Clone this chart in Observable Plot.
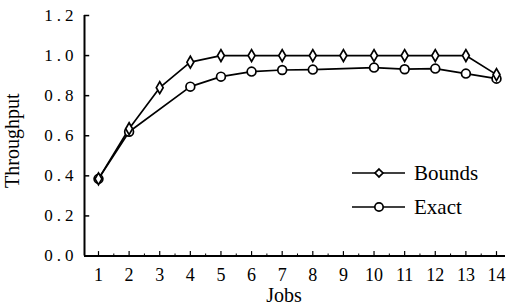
<!DOCTYPE html>
<html>
<head>
<meta charset="utf-8">
<script src="https://cdn.jsdelivr.net/npm/d3@7"></script>
<script src="https://cdn.jsdelivr.net/npm/@observablehq/plot@0.6"></script>
<style>
  html, body { margin: 0; padding: 0; background: #fff; }
  #wrap { position: relative; width: 510px; height: 307px; font-family: "Liberation Serif", "Times New Roman", serif; }
  #legend { position: absolute; left: 350px; top: 160px; }
  #wrap svg text { font-family: "Liberation Serif", "Times New Roman", serif; fill: #000; }
  #wrap [aria-label="y-axis tick label"] text { font-size: 17px; letter-spacing: 4px; }
  #wrap [aria-label="x-axis tick label"] text { font-size: 18px; }
  #wrap .axlabel text { font-size: 20px; }
</style>
</head>
<body>
<div id="wrap"></div>
<script>
// Data
const boundsJobs = [1, 2, 3, 4, 5, 6, 7, 8, 9, 10, 11, 12, 13, 14];
const boundsVals = [0.385, 0.635, 0.84, 0.967, 1.0, 1.0, 1.0, 1.0, 1.0, 1.0, 1.0, 1.0, 1.0, 0.905];
const exactJobs = [1, 2, 4, 5, 6, 7, 8, 10, 11, 12, 13, 14];
const exactVals = [0.385, 0.62, 0.845, 0.895, 0.92, 0.928, 0.93, 0.94, 0.932, 0.935, 0.91, 0.885];
const xTicks = [1, 2, 3, 4, 5, 6, 7, 8, 9, 10, 11, 12, 13, 14];
const yTicks = [0, 0.2, 0.4, 0.6, 0.8, 1.0, 1.2];
const yTickLabels = ["0.0", "0.2", "0.4", "0.6", "0.8", "1.0", "1.2"];
const seriesNames = ["Bounds", "Exact"];
const xLabel = "Jobs";
const yLabel = "Throughput";

const bounds = boundsJobs.map((j, i) => ({job: j, value: boundsVals[i]}));
const exact = exactJobs.map((j, i) => ({job: j, value: exactVals[i]}));
const xMin = 0.543, xMax = 14.294;
const minorTicks = xTicks.map(d => d + 0.5).filter(d => d < xMax);

const chart = Plot.plot({
  width: 510,
  height: 307,
  marginLeft: 84,
  marginRight: 5,
  marginTop: 15,
  marginBottom: 51.5,
  style: {fontFamily: "Liberation Serif, Times New Roman, serif", fontSize: "17px", color: "#000", background: "#fff"},
  x: {domain: [xMin, xMax]},
  y: {domain: [0, 1.2]},
  marks: [
    Plot.axisY({ticks: yTicks, tickFormat: (d, i) => yTickLabels[i], tickSize: 0, tickPadding: 7, label: null}),
    Plot.axisX({ticks: xTicks, tickFormat: d => String(d), tickSize: 0, tickPadding: 12, label: null}),
    Plot.ruleX([xMin], {y1: 0, y2: 1.2, strokeWidth: 2, stroke: "#000"}),
    Plot.ruleY([0], {strokeWidth: 2, stroke: "#000"}),
    Plot.ruleY(yTicks, {y: d => d, x1: xMin, x2: xMin + 0.17, strokeWidth: 1.5, stroke: "#000"}),
    Plot.ruleX(xTicks, {x: d => d, y1: 0, y2: 0.022, strokeWidth: 1.2, stroke: "#000"}),
    Plot.ruleX(minorTicks, {x: d => d, y1: 0, y2: 0.01, strokeWidth: 1, stroke: "#000"}),
    Plot.line(bounds, {x: "job", y: "value", stroke: "#000", strokeWidth: 1.7}),
    Plot.line(exact, {x: "job", y: "value", stroke: "#000", strokeWidth: 1.7}),
    Plot.dot(exact, {x: "job", y: "value", r: 4.4, symbol: "circle", fill: "#fff", stroke: "#000", strokeWidth: 1.7}),
    Plot.dot(bounds, {x: "job", y: "value", r: 3.6, symbol: "diamond", fill: "#fff", stroke: "#000", strokeWidth: 1.7}),
    Plot.text([yLabel], {frameAnchor: "left", textAnchor: "middle", lineAnchor: "middle", rotate: -90, dx: -72, dy: 5, className: "axlabel", fill: "#000"}),
    Plot.text([xLabel], {frameAnchor: "bottom", textAnchor: "middle", lineAnchor: "middle", dx: -11, dy: 40, className: "axlabel", fill: "#000"})
  ]
});
document.getElementById("wrap").appendChild(chart);

// Legend
const legend = d3.select("#wrap").append("svg").attr("id", "legend").attr("width", 160).attr("height", 70);
seriesNames.forEach((name, i) => {
  const g = legend.append("g").attr("transform", `translate(0, ${13 + i * 34})`);
  g.append("line").attr("x1", 2).attr("x2", 55).attr("y1", 0).attr("y2", 0).attr("stroke", "#000").attr("stroke-width", 1.7);
  g.append("path").attr("transform", "translate(29,0)")
    .attr("d", i === 0 ? d3.symbol(d3.symbolDiamond2 || d3.symbolDiamond, 40)() : d3.symbol(d3.symbolCircle, 55)())
    .attr("fill", "#fff").attr("stroke", "#000").attr("stroke-width", 1.7);
  g.append("text").attr("x", 64).attr("y", 0).attr("dy", "0.35em")
    .style("font-size", "21px").attr("fill", "#000").text(name);
});
</script>
</body>
</html>
